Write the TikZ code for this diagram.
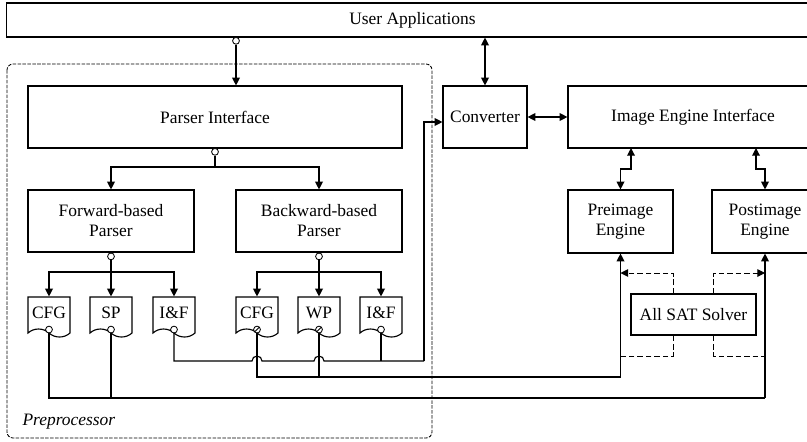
\documentclass[tikz,border=0pt]{standalone}
\usepackage{fontspec}
\setmainfont{Liberation Serif}
\usetikzlibrary{arrows.meta,shapes.symbols}

\begin{document}
\begin{tikzpicture}[x=0.025cm,y=-0.025cm,line width=0.8pt,
    >={Triangle[length=5.5pt,width=5.5pt]},
    font=\fontsize{12.4}{14.2}\selectfont,
    blk/.style={draw,align=center,minimum height=1.55cm},
    doc/.style={draw,shape=tape,tape bend top=none,tape bend bottom=out and in,
      tape bend height=0.2cm,minimum width=1.05cm,minimum height=1cm,inner sep=1pt},
    prt/.style={draw,circle,fill=white,inner sep=0pt,minimum size=0.17cm,line width=0.6pt},
    prts/.style={prt,path picture={\draw[line width=0.6pt] (path picture bounding box.south west)
      -- (path picture bounding box.north east);}},
    sat/.style={draw,dash pattern=on 4pt off 2pt,line width=0.7pt}]
    \useasboundingbox (0,0) rectangle (807,441);

    % preprocessor frame
    \draw[line width=0.6pt,dash pattern=on 2.5pt off 1pt,rounded corners=0.15cm]
      (7,64) rectangle (432,438);
    \node[anchor=west,inner sep=0pt,font=\fontsize{12.4}{14.2}\selectfont\itshape] (prep) at (22,422) {Preprocessor};

    \node[blk,minimum width=20.275cm,minimum height=0.85cm] (user) at (412.5,20) {User Applications};
    \node[blk,minimum width=9.35cm] (pi) at (215,117) {Parser Interface};
    \node[blk,minimum width=4.15cm] (fwd) at (111,221) {Forward-based\\Parser};
    \node[blk,minimum width=4.15cm] (bwd) at (319,221) {Backward-based\\Parser};
    \node[blk,minimum width=2.1cm] (conv) at (485,117) {Converter};
    \node[blk,minimum width=6.25cm] (iei) at (693,117) {Image Engine Interface};
    \node[blk,minimum width=2.625cm,minimum height=1.575cm] (pre) at (620.5,221.5) {Preimage\\Engine};
    \node[blk,minimum width=2.65cm,minimum height=1.575cm] (post) at (765,221.5) {Postimage\\Engine};
    \node[blk,minimum width=3.125cm,minimum height=1.025cm] (sat) at (693.5,314.5) {All SAT Solver};

    \node[doc] (fcfg) at (49,313) {CFG};
    \node[doc] (fsp) at (111,313) {SP};
    \node[doc] (fif) at (174,313) {I\&F};
    \node[doc] (bcfg) at (257,313) {CFG};
    \node[doc] (bwp) at (319,313) {WP};
    \node[doc] (bif) at (381,313) {I\&F};

    \coordinate (pisplit) at (215,167);
    \coordinate (fsplit) at (111,272);
    \coordinate (bsplit) at (319,272);
    \coordinate (ibus) at (424,361);
    \coordinate (bbus) at (620.5,377);
    \coordinate (fbus) at (765,398);
    \coordinate (ieipre) at (631,148);
    \coordinate (ieipost) at (756,148);

    % top part
    \node[prt,anchor=north] (uo) at (236,37) {};
    \draw[->] (uo) -- (uo |- pi.north);
    \draw[<->] (conv.north) -- (conv.north |- user.south);
    \draw[<->] (conv) -- (iei);
    \node[prt,anchor=north] (pio) at (215,148) {};
    \draw (pio) -- (pisplit);
    \draw[->] (pisplit) -| (fwd);
    \draw[->] (pisplit) -| (bwd);

    % parsers to docs
    \node[prt,anchor=north] (fwdo) at (fwd.south) {};
    \node[prt,anchor=north] (bwdo) at (bwd.south) {};
    \draw (fwdo) -- (fsplit);
    \draw (bwdo) -- (bsplit);
    \foreach \d in {fcfg,fsp,fif} \draw[->] (fsplit) -| (\d);
    \foreach \d in {bcfg,bwp,bif} \draw[->] (bsplit) -| (\d);

    % docs to engines
    \draw[->] (ibus) |- ([yshift=-0.125cm]conv.west);
    \draw[->] (bbus) -- (pre);
    \draw[->] (fbus) -- (post);
    \draw (fif.south) |- (252,361) arc[start angle=180,end angle=0,radius=0.125cm]
      -- (314,361) arc[start angle=180,end angle=0,radius=0.125cm] -- (ibus);
    \draw (bif.south) -- (bif.south |- ibus);
    \draw (bcfg.south) |- (bbus);
    \draw (bwp.south) -- (bwp.south |- bbus);
    \draw (fcfg.south) |- (fbus);
    \draw (fsp.south) -- (fsp.south |- fbus);
    \node[prt] (fcfgo) at (fcfg.south) {};
    \node[prt] (fspo) at (fsp.south) {};
    \node[prt] (fifo) at (fif.south) {};
    \node[prts] (bcfgo) at (bcfg.south) {};
    \node[prts] (bwpo) at (bwp.south) {};
    \node[prt] (bifo) at (bif.south) {};

    % engines
    \draw[<->] (ieipre) -- ++(0,21) -| (pre);
    \draw[<->] (ieipost) -- ++(0,21) -| (post);
    \draw[sat,->] ([xshift=-0.51cm]sat.north) |- (pre.south |- 0,273);
    \draw[sat,->] ([xshift=0.51cm]sat.north) |- (post.south |- 0,273);
    \draw[sat] ([xshift=-0.51cm]sat.south) |- (pre.south |- 0,356);
    \draw[sat] ([xshift=0.51cm]sat.south) |- (post.south |- 0,356);
\end{tikzpicture}
\end{document}
